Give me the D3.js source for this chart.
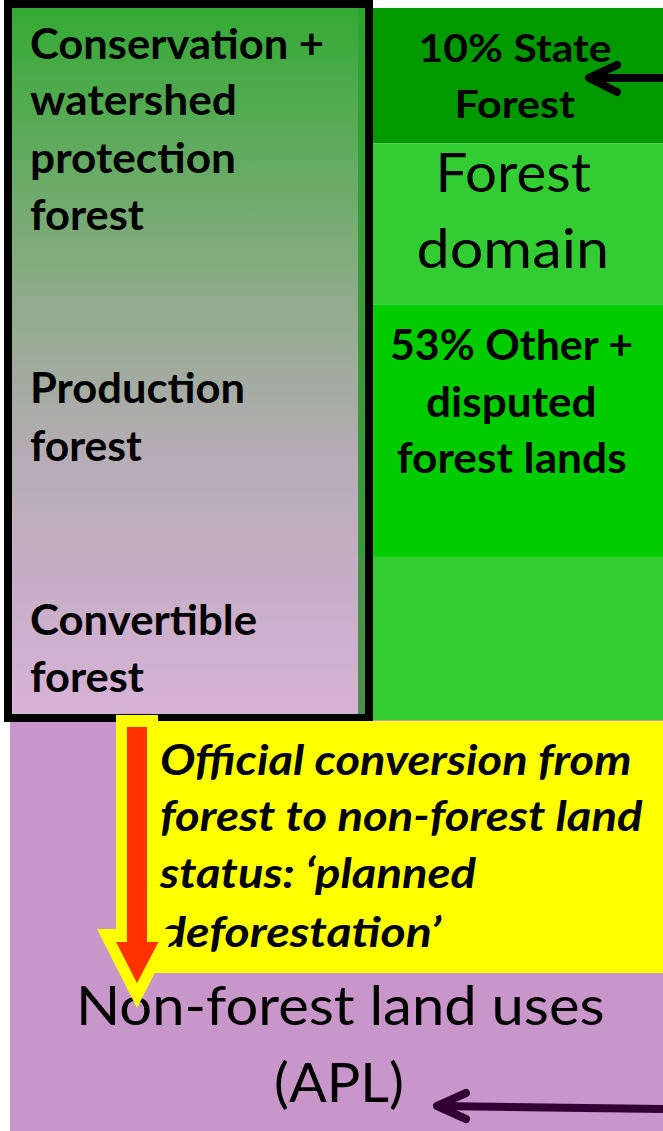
<!DOCTYPE html>
<html>
<head>
<meta charset="utf-8">
<script src="https://cdn.jsdelivr.net/npm/d3@7"></script>
<style>
  html, body { margin: 0; padding: 0; background: #ffffff; }
  svg { display: block; }
</style>
</head>
<body>
<svg id="chart" width="663" height="1131"></svg>
<script>
// ---- data (diagram content) ----
const leftZoneLabels = [
  ["Conservation +", "watershed", "protection", "forest"],
  ["Production", "forest"],
  ["Convertible", "forest"]
];
const rightSegmentNames = ["10% State Forest", "Forest domain", "53% Other + disputed forest lands", "Forest domain (rest)"];
const rightSegmentBounds = [0, 0.19, 0.417, 0.771, 1]; // fraction of forest-domain height
const stateForestLabel = ["10% State", "Forest"];
const forestDomainLabel = ["Forest", "domain"];
const otherForestLabel = ["53% Other +", "disputed", "forest lands"];
const conversionNote = ["Official conversion from", "forest to non-forest land", "status: \u2018planned", "deforestation\u2019"];
const nonForestLabel = ["Non-forest land uses", "(APL)"];

// ---- layout ----
const svg = d3.select("#chart");
const W = 663, H = 1131;
const y = d3.scaleLinear().domain([0, 1]).range([8, 720]);
const segColors = ["#009900", "#33cc33", "#00cc00", "#33cc33"];
const FONT = "Lato, 'Open Sans', sans-serif";

const defs = svg.append("defs");
const grad = defs.append("linearGradient").attr("id", "leftGrad")
  .attr("x1", 0).attr("y1", 0).attr("x2", 0).attr("y2", 1);
[[0, "#33aa33"], [0.41, "#8fab8a"], [0.64, "#b6acb6"], [1, "#d8b2d8"]]
  .forEach(([o, c]) => grad.append("stop").attr("offset", o).attr("stop-color", c));
const grad2 = defs.append("linearGradient").attr("id", "stripGrad")
  .attr("x1", 0).attr("y1", 0).attr("x2", 0).attr("y2", 1);
[[0, "#2ba52b"], [1, "#4d8f4d"]]
  .forEach(([o, c]) => grad2.append("stop").attr("offset", o).attr("stop-color", c));

// non-forest land (bottom purple)
svg.append("rect").attr("x", 10).attr("y", 718).attr("width", W - 10).attr("height", H - 718)
  .attr("fill", "#c896c8");

// right column segments
svg.selectAll("rect.seg").data(rightSegmentNames).join("rect")
  .attr("class", "seg")
  .attr("x", 373)
  .attr("y", (d, i) => y(rightSegmentBounds[i]))
  .attr("width", W - 373)
  .attr("height", (d, i) => y(rightSegmentBounds[i + 1]) - y(rightSegmentBounds[i]))
  .attr("fill", (d, i) => segColors[i]);

// left box fill
svg.append("rect").attr("x", 8).attr("y", 4).attr("width", 361).attr("height", 714)
  .attr("fill", "url(#leftGrad)");
svg.append("rect").attr("x", 358).attr("y", 8).attr("width", 8).attr("height", 706)
  .attr("fill", "url(#stripGrad)");
svg.append("rect").attr("x", 358).attr("y", y(rightSegmentBounds[2]))
  .attr("width", 10).attr("height", y(rightSegmentBounds[3]) - y(rightSegmentBounds[2]))
  .attr("fill", "#3a9a3a");
svg.append("rect").attr("x", 8).attr("y", 4).attr("width", 361).attr("height", 714)
  .attr("fill", "none").attr("stroke", "#000").attr("stroke-width", 8);

// yellow note box
svg.append("rect").attr("x", 155).attr("y", 721).attr("width", W - 155).attr("height", 252)
  .attr("fill", "#ffff00");

// ---- text helper: size by cap height, stretch to measured width ----
function txt(str, x, yb, w, fs, weight, style) {
  const t = svg.append("text")
    .attr("x", x).attr("y", yb)
    .attr("font-family", FONT)
    .attr("font-size", fs)
    .attr("font-weight", weight || "normal")
    .attr("font-style", style || "normal")
    .attr("fill", "#000")
    .text(str);
  if (w) {
    t.attr("textLength", w).attr("lengthAdjust", "spacingAndGlyphs");
  }
  return t;
}

// left zone labels
const leftPos = [
  [[59, 294], [115, 207], [173, 206], [230, 114]],
  [[403, 215], [461, 112]],
  [[635, 227], [692, 114]]
];
leftZoneLabels.forEach((lines, zi) => {
  lines.forEach((s, li) => {
    const [yb, w] = leftPos[zi][li];
    txt(s, 30, yb, w, 42, "bold");
  });
});

// right labels
txt(stateForestLabel[0], 418.6, 61.7, 193, 39, "bold");
txt(stateForestLabel[1], 454.5, 118, 120.5, 39, "bold");
txt(forestDomainLabel[0], 435.5, 191.7, 155.5, 54, "normal");
txt(forestDomainLabel[1], 416.5, 268.3, 192.5, 54, "normal");
txt(otherForestLabel[0], 390, 360, 243, 42, "bold");
txt(otherForestLabel[1], 426, 416.7, 170.7, 42, "bold");
txt(otherForestLabel[2], 396.7, 473.3, 230, 42, "bold");

// conversion note
const notePos = [[775, 471.6], [831, 482.5], [888, 316], [946.7, 281]];
conversionNote.forEach((s, i) => txt(s, 160, notePos[i][0], notePos[i][1], 42, "bold", "italic"));

// non forest label
txt(nonForestLabel[0], 76, 1025, 528.6, 54, "normal");
txt(nonForestLabel[1], 274, 1101.7, 130, 54, "normal");

// ---- arrows ----
const line = d3.line();
svg.append("path")
  .attr("d", line([[116, 715], [158, 715], [158, 929], [177, 929], [137, 1008], [97, 929], [116, 929]]) + "Z")
  .attr("fill", "#ffff00");
svg.append("path")
  .attr("d", line([[127, 727], [147, 727], [147, 942], [158.5, 942], [137, 983], [116, 942], [127, 942]]) + "Z")
  .attr("fill", "#ff3300");

svg.append("path").attr("d", line([[663, 78], [592, 78]]))
  .attr("stroke", "#000").attr("stroke-width", 8).attr("fill", "none");
svg.append("path").attr("d", line([[617, 65], [589, 78], [617, 92]]))
  .attr("stroke", "#000").attr("stroke-width", 8).attr("fill", "none")
  .attr("stroke-linecap", "round").attr("stroke-linejoin", "round");

svg.append("path").attr("d", line([[663, 1109], [440, 1106]]))
  .attr("stroke", "#330033").attr("stroke-width", 8).attr("fill", "none");
svg.append("path").attr("d", line([[466, 1093], [437, 1106], [466, 1119]]))
  .attr("stroke", "#330033").attr("stroke-width", 8).attr("fill", "none")
  .attr("stroke-linecap", "round").attr("stroke-linejoin", "round");
</script>
</body>
</html>
